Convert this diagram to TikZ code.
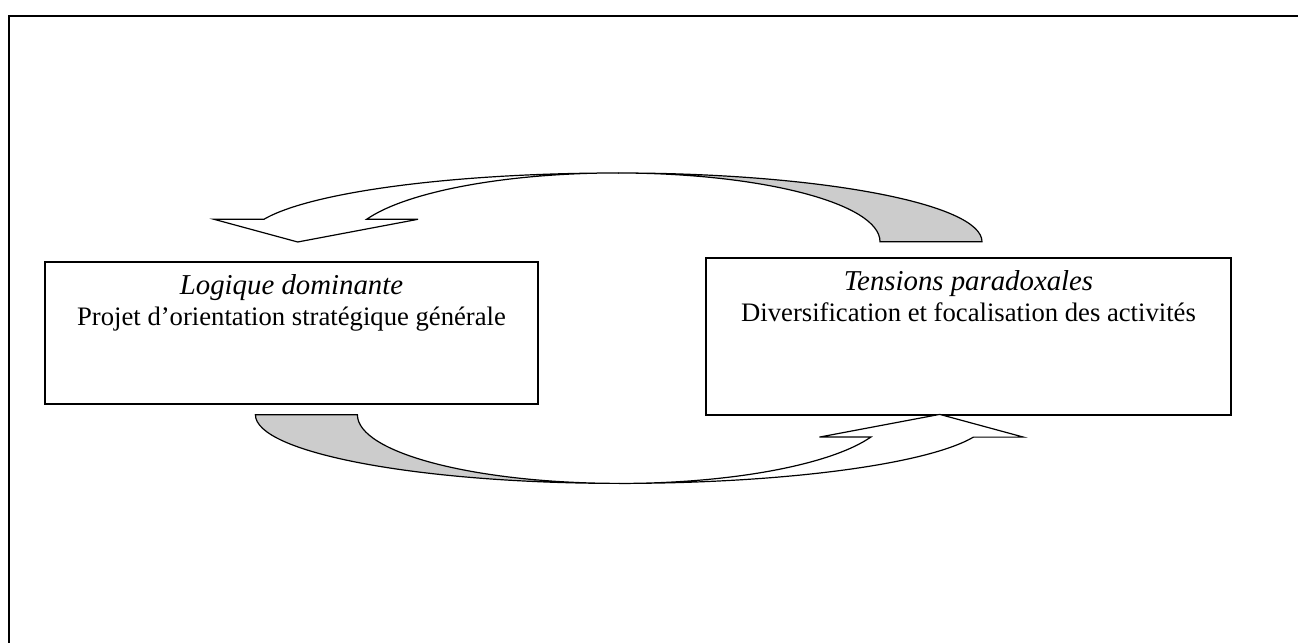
\documentclass[tikz,border=0pt]{standalone}
\usepackage{fontspec}
\setmainfont{Liberation Serif}
\definecolor{ribbongray}{HTML}{CCCCCC}
\begin{document}
\begin{tikzpicture}[x=0.75pt,y=0.75pt,
  box/.style={draw, line width=0.9pt, inner sep=0pt},
  titletext/.style={font=\fontsize{21.6}{26}\selectfont\itshape, anchor=base, inner sep=0pt},
  subtext/.style={font=\fontsize{20}{24}\selectfont, anchor=base, inner sep=0pt},
  ribbon/.style={draw, line width=0.9pt, line join=miter, fill=white},
  ribbonback/.style={draw, line width=0.9pt, fill=ribbongray}]
\useasboundingbox (0,0) rectangle (1298,642);
\clip (0,0) rectangle (1298,642);
\fill[white] (0,0) rectangle (1298,642);
% outer frame (continues beyond the right and bottom edges)
\draw[line width=1.5pt] (9,-40) -- (9,626) -- (1340,626);

% boxes
\node[box, minimum width=369.75pt, minimum height=106.5pt] (lbox) at (291.5,309) {};
\node[box, minimum width=393.75pt, minimum height=117.75pt] (rbox) at (968.5,305.5) {};

% texts
\node[titletext] (ltitle) at (291.5,347) {Logique dominante};
\node[subtext] (lsub) at (291.5,316) {Projet d’orientation stratégique générale};
\node[titletext] (rtitle) at (968.5,351) {Tensions paradoxales};
\node[subtext] (rsub) at (968.5,320) {Diversification et focalisation des activités};

% top curved arrow (from right box towards left box)
\path[ribbonback] (982,400.3) arc[start angle=0, end angle=90, x radius=364, y radius=68.7]
  arc[start angle=90, end angle=0, x radius=262, y radius=68.7] -- cycle;
\path[ribbon] (618,469) arc[start angle=90, end angle=163.1, x radius=370, y radius=65.2]
  -- (214,422.7) -- (297.7,400) -- (418,422.7) -- (366.6,422.7)
  arc[start angle=158.6, end angle=90, x radius=270, y radius=73] -- cycle;

% bottom curved arrow (from left box towards right box): same shape turned round
\begin{scope}[rotate around={180:(618.7,313.8)}]
\path[ribbonback] (982,400.3) arc[start angle=0, end angle=90, x radius=364, y radius=68.7]
  arc[start angle=90, end angle=0, x radius=262, y radius=68.7] -- cycle;
\path[ribbon] (618,469) arc[start angle=90, end angle=163.1, x radius=370, y radius=65.2]
  -- (214,422.7) -- (297.7,400) -- (418,422.7) -- (366.6,422.7)
  arc[start angle=158.6, end angle=90, x radius=270, y radius=73] -- cycle;
\end{scope}
\end{tikzpicture}
\end{document}
